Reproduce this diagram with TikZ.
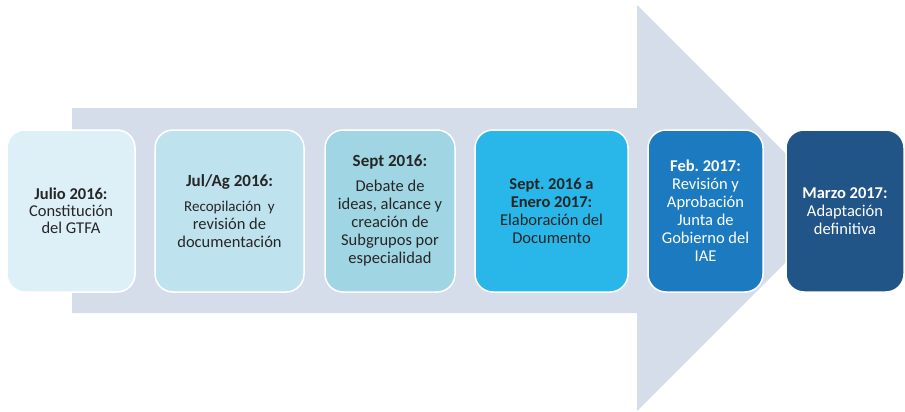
\documentclass[tikz,border=0pt]{standalone}
\usepackage{fontspec}
\setmainfont{Carlito}
\frenchspacing
\definecolor{arrowgray}{RGB}{214,221,234}
\definecolor{textgray}{RGB}{38,38,38}
\definecolor{stepA}{RGB}{221,239,247}
\definecolor{stepB}{RGB}{191,227,238}
\definecolor{stepC}{RGB}{160,214,228}
\definecolor{stepD}{RGB}{41,182,233}
\definecolor{stepE}{RGB}{28,123,192}
\definecolor{stepF}{RGB}{33,84,135}
\begin{document}
\begin{tikzpicture}
[x=1pt, y=-1pt,
every node/.style={rounded corners=18pt, draw=white, line width=1.5pt,
  minimum height=162pt, align=center, inner sep=2pt, text=textgray,
  font=\fontsize{16.5}{18}\selectfont},
light/.style={text=white}
]
\useasboundingbox (0,0) rectangle (905,412);
\fill[arrowgray] (72,108) -- (637,108) -- (637,5) -- (840,208)
  -- (637,411) -- (637,313) -- (72,313) -- cycle;
\node[fill=stepA, minimum width=128pt, font=\fontsize{16.5}{17}\selectfont] (julio) at (71,211)
  {\textbf{Julio 2016:}\\Constitución\\del GTFA};
\node[fill=stepB, minimum width=149pt] (julag) at (229.5,211)
  {\fontsize{17}{18}\selectfont\textbf{Jul/Ag 2016:}\\[7pt]
   \fontsize{15}{16}\selectfont Recopilación\ \ y\\revisión de\\documentación};
\node[fill=stepC, minimum width=130pt] (sept) at (390,211)
  {\fontsize{17}{18}\selectfont\textbf{Sept 2016:}\\[7pt]
   \fontsize{16.5}{17}\selectfont Debate de\\ideas, alcance y\\creación de\\Subgrupos por\\especialidad};
\node[fill=stepD, minimum width=153pt] (elab) at (551.5,211)
  {\textbf{Sept. 2016 a}\\\textbf{Enero 2017:}\\Elaboración del\\Documento};
\node[fill=stepE, minimum width=115pt, light] (feb) at (705.5,211)
  {\textbf{Feb. 2017:}\\Revisión y\\Aprobación\\Junta de\\Gobierno del\\IAE};
\node[fill=stepF, minimum width=118pt, light] (marzo) at (845,211)
  {\textbf{Marzo 2017:}\\Adaptación\\definitiva};
\end{tikzpicture}
\end{document}
